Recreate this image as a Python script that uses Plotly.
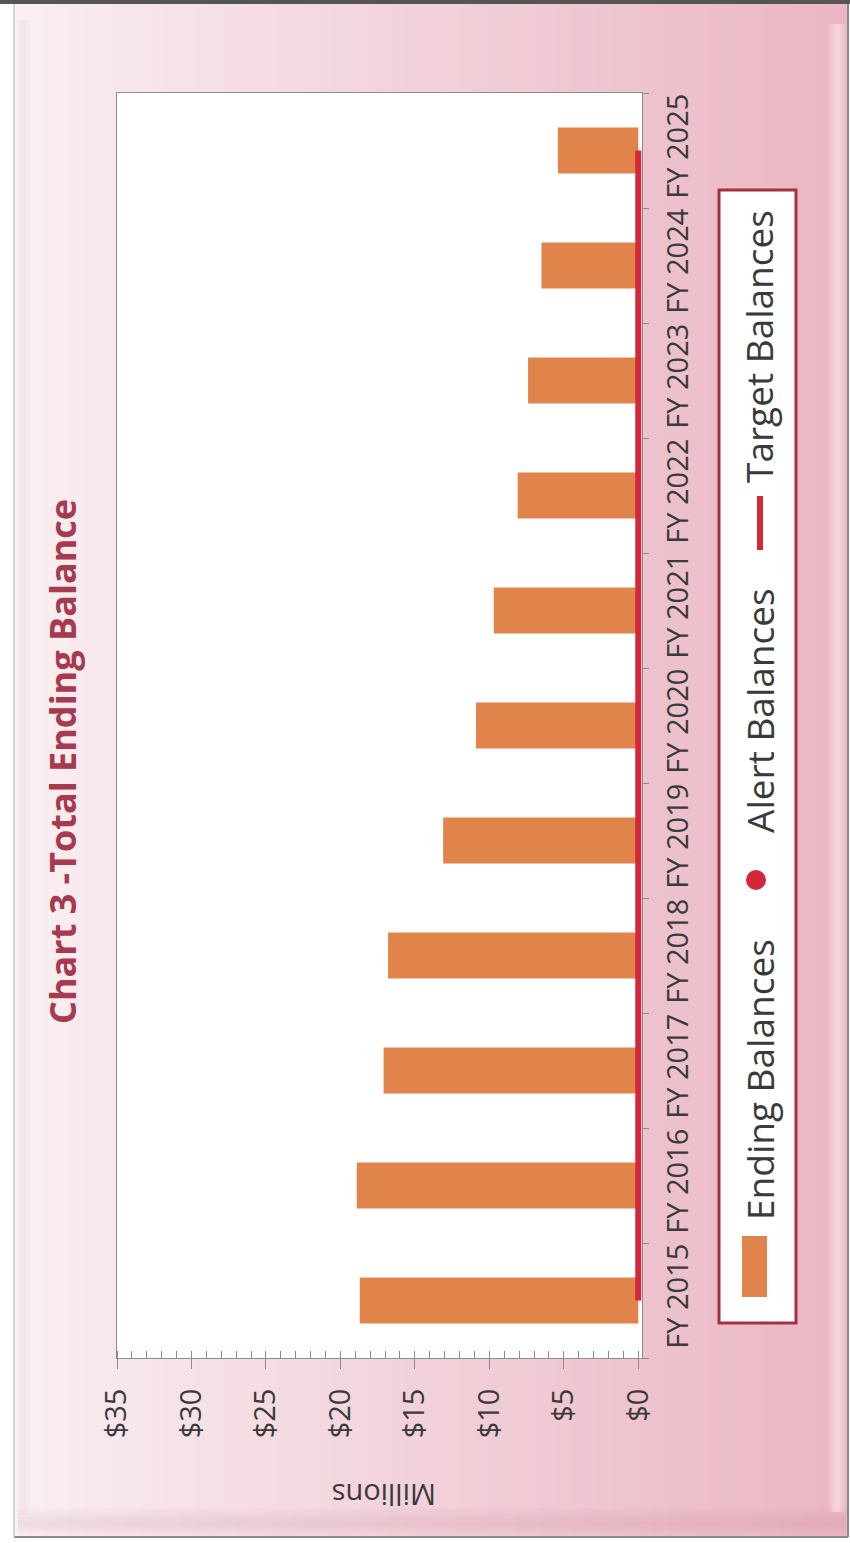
import plotly.graph_objects as go

# ---------------- data ----------------
categories = ["FY 2015", "FY 2016", "FY 2017", "FY 2018", "FY 2019", "FY 2020",
              "FY 2021", "FY 2022", "FY 2023", "FY 2024", "FY 2025"]
ending_balances = [18.7, 18.9, 17.1, 16.8, 13.1, 10.9, 9.7, 8.1, 7.4, 6.5, 5.4]
alert_balances = [None] * 11
target_balances = [0, 0, 0, 0, 0, 0, 0, 0, 0, 0, 0]
value_ticks = [0, 5, 10, 15, 20, 25, 30, 35]
value_tick_labels = ["$0", "$5", "$10", "$15", "$20", "$25", "$30", "$35"]

title_text = "Chart 3 -Total Ending Balance"
axis_title = "Millions"
legend_names = ["Ending Balances", "Alert Balances", "Target Balances"]

# ---------------- layout geometry ----------------
W, H = 850, 1543
L, R, T, B = 117, 208, 93, 185
PW, PH = W - L - R, H - T - B
FONT = "Open Sans"
TXT = "#3a3a3a"
BAR = "#e0844c"
RED = "#d2283a"
MAROON = "#a63a4e"


def px(x):
    return (x - L) / PW


def py(y):
    return 1 - (y - T) / PH


fig = go.Figure()

fig.add_trace(go.Bar(
    x=ending_balances, y=categories, orientation="h",
    marker=dict(color=BAR, line=dict(width=0)),
    width=0.4, name=legend_names[0], showlegend=False,
))
fig.add_trace(go.Scatter(
    x=alert_balances, y=categories, mode="markers",
    marker=dict(color=RED, size=18), name=legend_names[1], showlegend=False,
))
fig.add_trace(go.Scatter(
    x=target_balances, y=categories, mode="lines",
    line=dict(color=RED, width=6), name=legend_names[2], showlegend=False,
))


def rect(x0, x1, y0, y1, fill, layer="below", line=None):
    return dict(type="rect", xref="paper", yref="paper", x0=px(x0), x1=px(x1),
                y0=py(y0), y1=py(y1), fillcolor=fill,
                line=line or dict(width=0), layer=layer)


shapes = []
# page frame & pink gradient background
shapes.append(rect(0, 850, 0, 1543, "white"))
N = 60
x_left, x_right = 14, 848
c0 = (250, 240, 243)
c1 = (235, 183, 196)
for i in range(N):
    t = i / (N - 1)
    t2 = t ** 0.9
    col = tuple(int(c0[k] + (c1[k] - c0[k]) * t2) for k in range(3))
    xa = x_left + (x_right - x_left) * i / N
    xb = x_left + (x_right - x_left) * (i + 1) / N + 0.8
    shapes.append(rect(xa, xb, 4, 1537, "rgb(%d,%d,%d)" % col))

# soft bevel on the right edge (highlight band)
for i, a in enumerate([0.06, 0.12, 0.2, 0.3, 0.4, 0.45, 0.4, 0.3, 0.18, 0.08]):
    xa = 826 + i * 2
    shapes.append(rect(xa, xa + 2, 24, 1512, "rgba(255,255,255,%.2f)" % a))
# soft bevel along the bottom edge (slightly darker band)
for i, a in enumerate([0.03, 0.06, 0.09, 0.12, 0.14, 0.16, 0.14, 0.1, 0.06, 0.03]):
    ya = 1508 + i * 2.8
    shapes.append(rect(18, 846, ya, ya + 2.8, "rgba(190,110,130,%.2f)" % a))
# faint light band along the left edge
for i, a in enumerate([0.1, 0.2, 0.25, 0.2, 0.1]):
    xa = 17 + i * 2.5
    shapes.append(rect(xa, xa + 2.5, 20, 1515, "rgba(225,195,205,%.2f)" % a))

# frame lines
shapes.append(dict(type="line", xref="paper", yref="paper", x0=px(0), x1=px(850),
                   y0=py(2), y1=py(2), line=dict(color="#555555", width=4), layer="below"))
shapes.append(dict(type="line", xref="paper", yref="paper", x0=px(14), x1=px(848),
                   y0=py(1537), y1=py(1537), line=dict(color="#8a8a8a", width=2), layer="below"))
shapes.append(dict(type="line", xref="paper", yref="paper", x0=px(14), x1=px(14),
                   y0=py(4), y1=py(1537), line=dict(color="#c8c8c8", width=1.5), layer="below"))
shapes.append(dict(type="line", xref="paper", yref="paper", x0=px(848), x1=px(848),
                   y0=py(4), y1=py(1537), line=dict(color="#8a8a8a", width=2), layer="below"))
# white plot area
shapes.append(dict(type="rect", xref="paper", yref="paper", x0=0, x1=1, y0=0, y1=1,
                   fillcolor="white", line=dict(width=0), layer="below"))

# legend box and swatches
shapes.append(rect(719, 796, 190, 1323, "white", layer="above",
                   line=dict(color="#a5303f", width=3)))
shapes.append(rect(742, 767, 1236, 1297, BAR, layer="above"))
shapes.append(dict(type="circle", xref="paper", yref="paper", x0=px(746), x1=px(766),
                   y0=py(870), y1=py(890), fillcolor=RED, line=dict(width=0), layer="above"))
shapes.append(dict(type="line", xref="paper", yref="paper", x0=px(760), x1=px(760),
                   y0=py(496), y1=py(550), line=dict(color=RED, width=6), layer="above"))

annotations = [
    dict(text="<b>%s</b>" % title_text, x=px(62), y=py(762), xref="paper", yref="paper",
         textangle=-90, showarrow=False, xanchor="center", yanchor="middle",
         font=dict(family=FONT, size=36, color=MAROON)),
    dict(text=axis_title, x=px(384), y=py(1496), xref="paper", yref="paper",
         textangle=180, showarrow=False, xanchor="center", yanchor="middle",
         font=dict(family=FONT, size=29, color=TXT)),
    dict(text=legend_names[0], x=px(759), y=py(1080), xref="paper", yref="paper",
         textangle=-90, showarrow=False, xanchor="center", yanchor="middle",
         font=dict(family=FONT, size=37, color=TXT)),
    dict(text=legend_names[1], x=px(759), y=py(711), xref="paper", yref="paper",
         textangle=-90, showarrow=False, xanchor="center", yanchor="middle",
         font=dict(family=FONT, size=37, color=TXT)),
    dict(text=legend_names[2], x=px(759), y=py(347), xref="paper", yref="paper",
         textangle=-90, showarrow=False, xanchor="center", yanchor="middle",
         font=dict(family=FONT, size=37, color=TXT)),
]

fig.update_layout(
    width=W, height=H,
    margin=dict(l=L, r=R, t=T, b=B, pad=0),
    paper_bgcolor="white", plot_bgcolor="rgba(0,0,0,0)",
    showlegend=False, bargap=0.6,
    shapes=shapes, annotations=annotations,
    font=dict(family=FONT, color=TXT),
)
fig.update_xaxes(
    range=[35, -0.25], tickvals=value_ticks, ticktext=value_tick_labels,
    tickangle=-90, tickfont=dict(family=FONT, size=29, color=TXT),
    showgrid=False, zeroline=False,
    showline=True, linecolor="#8c8c8c", linewidth=1, mirror=True,
    ticks="outside", ticklen=10, tickcolor="#8c8c8c",
    minor=dict(dtick=1, ticks="inside", ticklen=7, tickcolor="#8c8c8c", showgrid=False),
    ticklabelstandoff=8,
)
fig.update_yaxes(
    type="category", categoryorder="array", categoryarray=categories,
    range=[-0.5, 10.5], side="right", tickangle=-90,
    tickfont=dict(family=FONT, size=29, color=TXT),
    showgrid=False, zeroline=False,
    showline=True, linecolor="#8c8c8c", linewidth=1, mirror=True,
    ticks="outside", ticklen=6, tickcolor="#8c8c8c", tickson="boundaries",
    ticklabelstandoff=10,
)

fig.write_html("out.html")
